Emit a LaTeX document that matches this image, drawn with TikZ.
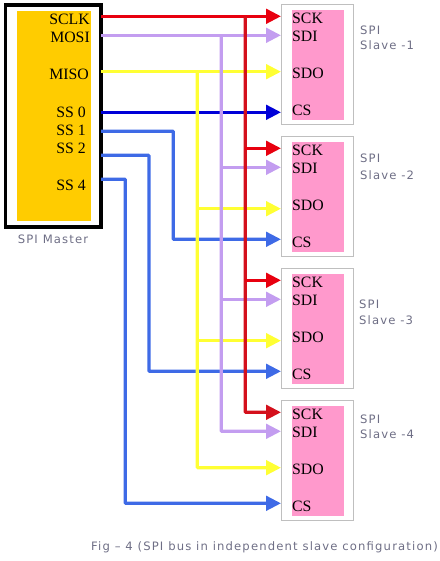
\documentclass[tikz,border=0pt]{standalone}
\usepackage{fontspec}
\setmainfont{Liberation Serif}
\newfontfamily\graylabel[LetterSpace=10]{DejaVu Sans}
\usetikzlibrary{arrows.meta,calc}
\definecolor{cRed}{HTML}{E8000F}
\definecolor{cRedV}{HTML}{D4101C}
\definecolor{cPurple}{HTML}{C39DF0}
\definecolor{cYellow}{HTML}{FFFF33}
\definecolor{cNavy}{HTML}{0000D8}
\definecolor{cBlue}{HTML}{3E6AE6}
\definecolor{cGold}{HTML}{FFCC00}
\definecolor{cPink}{HTML}{FF99CC}
\definecolor{cGrayT}{HTML}{6E6E85}
\tikzset{
  x=1pt,y=-1pt,
  wire/.style={line width=3.3pt,rounded corners=0.8pt},
  branch/.style={wire,-{Triangle[length=15pt,width=14.5pt]}},
  portm/.style={anchor=east,inner sep=0,font=\fontsize{15.8}{16}\selectfont,text=black},
  ports/.style={anchor=west,inner sep=0,font=\fontsize{15.8}{16}\selectfont,text=black},
  gray label/.style={anchor=west,inner sep=0,text=cGrayT,font=\graylabel\fontsize{11.6}{13}\selectfont},
}
\begin{document}
\begin{tikzpicture}
\useasboundingbox (0,0) rectangle (439,561);
% master
\node[draw=black,line width=3.4pt,fill=white,outer sep=0,minimum width=95.4pt,minimum height=222pt,inner sep=0,anchor=north west] (master) at (5.6,5) {};
\node[fill=cGold,outer sep=0,minimum width=74pt,minimum height=209.7pt,inner sep=0,anchor=north west] (core) at (17,11) {};
\node[portm] (lsclk) at (90,19) {SCLK};
\node[portm] (lmosi) at (90,37) {MOSI};
\node[portm] (lmiso) at (89,74) {MISO};
\node[portm] (lss0) at (86,112) {SS 0};
\node[portm] (lss1) at (86,130) {SS 1};
\node[portm] (lss2) at (86,148) {SS 2};
\node[portm] (lss4) at (86,185) {SS 4};
\node[gray label,anchor=center] (lmaster) at (53,239) {SPI Master};
% slaves
\foreach \n/\t/\lx/\ya/\yb in {1/4.3/360/30/45,2/136.3/360/158/175,3/268.3/359/304/320,4/400.3/360/419/434}{
  \node[draw=black!25,line width=0.8pt,fill=white,outer sep=0,minimum width=72pt,minimum height=120pt,inner sep=0,anchor=north west] (s\n) at (281.3,\t) {};
  \node[fill=cPink,outer sep=0,minimum width=52pt,minimum height=110pt,inner sep=0,anchor=north west] (p\n) at (292,\t+5.7) {};
  \node[ports] (sck\n) at (292,\t+14) {SCK};
  \node[ports] (sdi\n) at (292,\t+32) {SDI};
  \node[ports] (sdo\n) at (292,\t+69) {SDO};
  \node[ports] (cs\n) at (292,\t+106) {CS};
  \node[gray label] (spi\n) at (\lx,\ya) {SPI};
  \node[gray label] (sl\n) at (\lx,\yb) {Slave -\n};
}
% ports
\coordinate (msclk) at (101,16.3);
\coordinate (mmosi) at (101,35.3);
\coordinate (mmiso) at (101,71.7);
\coordinate (mss0) at (101,112.3);
\coordinate (mss1) at (101,131.3);
\coordinate (mss2) at (101,155.3);
\coordinate (mss4) at (101,179.3);
\foreach \n/\t in {1/5,2/137,3/269,4/401}{
  \coordinate (isck\n) at (281,\t+11.3);
  \coordinate (imosi\n) at (281,\t+30.3);
}
\coordinate (imiso1) at (281,71.7);
\coordinate (imiso2) at (281,208.7);
\coordinate (imiso3) at (281,340.7);
\coordinate (imiso4) at (281,467.7);
\coordinate (ics1) at (281,112.3);
\coordinate (ics2) at (281,239.3);
\coordinate (ics3) at (281,371.3);
\coordinate (ics4) at (281,503.3);
\coordinate (vred) at (245.3,0);
\coordinate (vpur) at (221.3,0);
\coordinate (vyel) at (197.3,0);
% chip selects
\draw[branch,cBlue] (mss1) -| (173.3,200) |- (ics2);
\draw[branch,cBlue] (mss2) -| (149,300) |- (ics3);
\draw[branch,cBlue] (mss4) -| (125.3,300) |- (ics4);
\draw[branch,cNavy] (mss0) -- (ics1);
% MISO
\draw[branch,cYellow] (mmiso) -- (imiso1);
\draw[branch,cYellow] (vyel |- imiso1) |- (imiso4);
\draw[branch,cYellow] (vyel |- imiso2) -- (imiso2);
\draw[branch,cYellow] (vyel |- imiso3) -- (imiso3);
% MOSI
\draw[branch,cPurple] (mmosi) -- (imosi1);
\draw[branch,cPurple] (vpur |- imosi1) |- (imosi4);
\draw[branch,cPurple] (vpur |- imosi2) -- (imosi2);
\draw[branch,cPurple] (vpur |- imosi3) -- (imosi3);
% SCLK
\draw[branch,cRed] (msclk) -- (isck1);
\draw[branch,cRedV] (vred |- isck1) |- (isck4);
\draw[branch,cRed] (vred |- isck2) -- (isck2);
\draw[branch,cRed] (vred |- isck3) -- (isck3);
% caption
\node[gray label,anchor=east] (cap) at (438,547) {Fig – 4 (SPI bus in independent slave configuration)};
\end{tikzpicture}
\end{document}
